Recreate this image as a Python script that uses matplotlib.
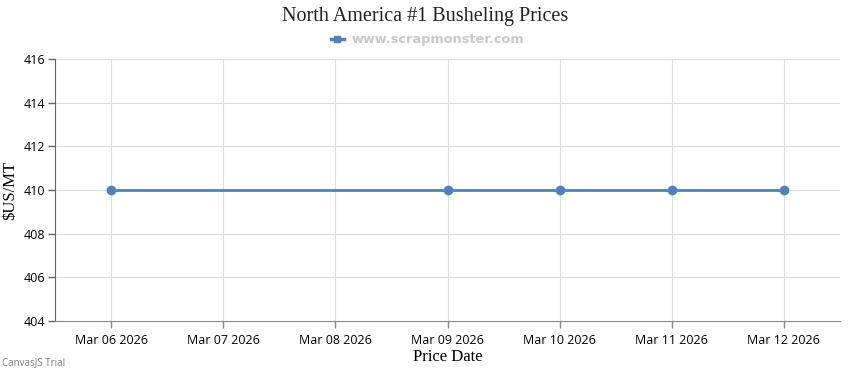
import matplotlib
matplotlib.use("Agg")
import matplotlib.pyplot as plt
import matplotlib.dates as mdates
from matplotlib.lines import Line2D
import numpy as np
import datetime as dt

dates = ["2026-03-06", "2026-03-09", "2026-03-10", "2026-03-11", "2026-03-12"]
prices = [410, 410, 410, 410, 410]
y_ticks = [404, 406, 408, 410, 412, 414, 416]
title = "North America #1 Busheling Prices"
legend_label = "www.scrapmonster.com"

x = [dt.datetime.strptime(d, "%Y-%m-%d") for d in dates]
color = "#4F81BC"

fig = plt.figure(figsize=(8.5, 3.7), dpi=100)
ax = fig.add_axes([55/850, 1-321/370, (840-55)/850, (321-59)/370])

ax.plot(x, prices, color=color, lw=2, marker="o", ms=6, zorder=3, clip_on=False)

ax.set_ylim(404, 416)
ax.set_yticks(y_ticks)
x0 = dt.datetime(2026, 3, 5, 12)
x1 = dt.datetime(2026, 3, 12, 12)
ax.set_xlim(x0, x1)
tick_dates = [dt.datetime(2026, 3, 6) + dt.timedelta(days=i) for i in range(7)]
ax.set_xticks(tick_dates)
ax.set_xticklabels([d.strftime("%b %d %Y") for d in tick_dates])

ax.grid(True, color="#dddddd", lw=0.8)
ax.set_axisbelow(True)
for s in ["top", "right"]:
    ax.spines[s].set_visible(False)
ax.spines["left"].set_color("#666666")
ax.spines["bottom"].set_color("#888888")
ax.tick_params(axis="both", labelsize=9, colors="#000000", length=5, width=1)
ax.tick_params(axis="x", color="#888888", pad=4)
ax.tick_params(axis="y", color="#666666", pad=2)
for lab in ax.get_xticklabels() + ax.get_yticklabels():
    lab.set_family("Open Sans")
    lab.set_color("#000000")

ax.set_ylabel("$US/MT", family="Liberation Serif", fontsize=12, labelpad=4)
ax.set_xlabel("Price Date", family="Liberation Serif", fontsize=12, labelpad=2)

fig.text(0.5, 1-16/370, title, ha="center", va="center", family="Liberation Serif",
         fontsize=14.5, color="#222222")
handle = Line2D([], [], color=color, lw=2.5, marker="s", ms=4.5)
fig.legend([handle], [legend_label], loc="center", bbox_to_anchor=(0.503, 1-40/370),
           frameon=False, prop={"family": "DejaVu Sans", "size": 9.3, "weight": "bold"},
           labelcolor="#c8c8c8", handlelength=1.0, handletextpad=0.6)

fig.text(2/850, 1-363/370, "CanvasJS Trial", ha="left", va="center", fontsize=7,
         color="#777777", family="Open Sans")

fig.savefig("out.png", dpi=100)
